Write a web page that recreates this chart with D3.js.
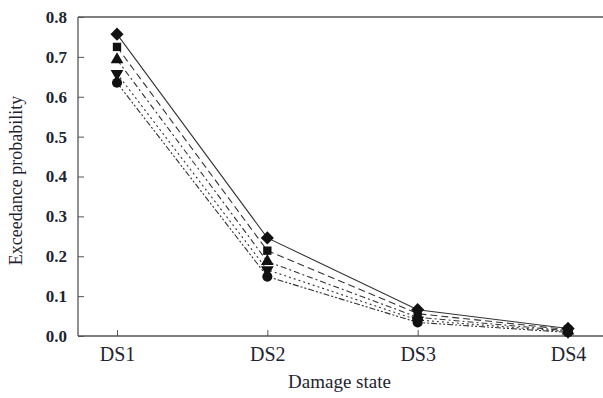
<!DOCTYPE html>
<html>
<head>
<meta charset="utf-8">
<script src="https://cdn.jsdelivr.net/npm/d3@7"></script>
<style>
  body { margin: 0; background: #fff; }
  text { font-family: "Liberation Serif", "DejaVu Serif", serif; fill: #1e2430; }
</style>
</head>
<body>
<div id="chart"></div>
<script>
// categories on the x axis
const damageStates = ["DS1", "DS2", "DS3", "DS4"];
// y tick values
const yTicks = [0, 0.1, 0.2, 0.3, 0.4, 0.5, 0.6, 0.7, 0.8];

// one array per curve
const seriesDiamond = [0.757, 0.246, 0.066, 0.019];
const seriesSquare = [0.725, 0.214, 0.056, 0.016];
const seriesTriangle = [0.693, 0.187, 0.047, 0.013];
const seriesTriDown = [0.658, 0.166, 0.040, 0.011];
const seriesCircle = [0.635, 0.149, 0.034, 0.009];

const series = [
  { values: seriesDiamond, symbol: d3.symbolDiamond2, dash: null, size: 110 },
  { values: seriesSquare, symbol: d3.symbolSquare, dash: "7,4", size: 70 },
  { values: seriesTriangle, symbol: d3.symbolTriangle, dash: "6,3,2,3", size: 70 },
  { values: seriesTriDown, symbol: "down", dash: "2,3", size: 70 },
  { values: seriesCircle, symbol: d3.symbolCircle, dash: "6,2,2,2,2,2", size: 80 },
];

const width = 603, height = 398;
const margin = { top: 17, right: 0, bottom: 62, left: 78 };
const innerW = width - margin.left - margin.right;
const innerH = height - margin.top - margin.bottom;

const svg = d3.select("#chart").append("svg")
  .attr("width", width).attr("height", height);

const g = svg.append("g").attr("transform", `translate(${margin.left},${margin.top})`);

const x = d3.scalePoint().domain(damageStates).range([39, 490]);
const y = d3.scaleLinear().domain([0, 0.8]).range([innerH, 0]);

// frame lines: left, top and bottom
g.append("line").attr("x1", 0).attr("x2", 0).attr("y1", 0).attr("y2", innerH)
  .attr("stroke", "#555").attr("stroke-width", 1.3);
g.append("line").attr("x1", 0).attr("x2", innerW).attr("y1", 0).attr("y2", 0)
  .attr("stroke", "#555").attr("stroke-width", 1.3);

// y axis, ticks pointing inward
const yAxis = g.append("g")
  .call(d3.axisLeft(y).tickValues(yTicks).tickFormat(d3.format(".1f")).tickSize(-6).tickPadding(11));
yAxis.select(".domain").remove();
yAxis.selectAll(".tick line").attr("stroke", "#555");
yAxis.selectAll("text").style("font-size", "17px").style("font-weight", "bold");

// x axis, ticks pointing inward
const xAxis = g.append("g").attr("transform", `translate(0,${innerH})`)
  .call(d3.axisBottom(x).tickSize(-6).tickPadding(9));
xAxis.select(".domain").attr("d", `M0,0H${innerW}`).attr("stroke", "#555").attr("stroke-width", 1.3);
xAxis.selectAll(".tick line").attr("stroke", "#555");
xAxis.selectAll("text").style("font-size", "20px").attr("dy", "0.8em");

// axis titles
g.append("text")
  .attr("x", innerW / 2 - 1).attr("y", innerH + 52)
  .attr("text-anchor", "middle").style("font-size", "19px")
  .text("Damage state");
g.append("text")
  .attr("transform", `translate(-56,${innerH / 2 + 4}) rotate(-90)`)
  .attr("text-anchor", "middle").style("font-size", "18px")
  .text("Exceedance probability");

const line = d3.line()
  .x((d, i) => x(damageStates[i]))
  .y(d => y(d));

// draw lines from last to first so the solid one is on top
series.slice().reverse().forEach(s => {
  g.append("path")
    .datum(s.values)
    .attr("d", line)
    .attr("fill", "none")
    .attr("stroke", "#333")
    .attr("stroke-width", 1.1)
    .attr("stroke-dasharray", s.dash);
});

series.slice().reverse().forEach(s => {
  const isDown = s.symbol === "down";
  const sym = d3.symbol().type(isDown ? d3.symbolTriangle : s.symbol).size(s.size);
  g.selectAll(null)
    .data(s.values)
    .enter()
    .append("path")
    .attr("d", sym)
    .attr("transform", (d, i) => `translate(${x(damageStates[i])},${y(d)})${isDown ? " rotate(180)" : ""}`)
    .attr("fill", "#111");
});
</script>
</body>
</html>
